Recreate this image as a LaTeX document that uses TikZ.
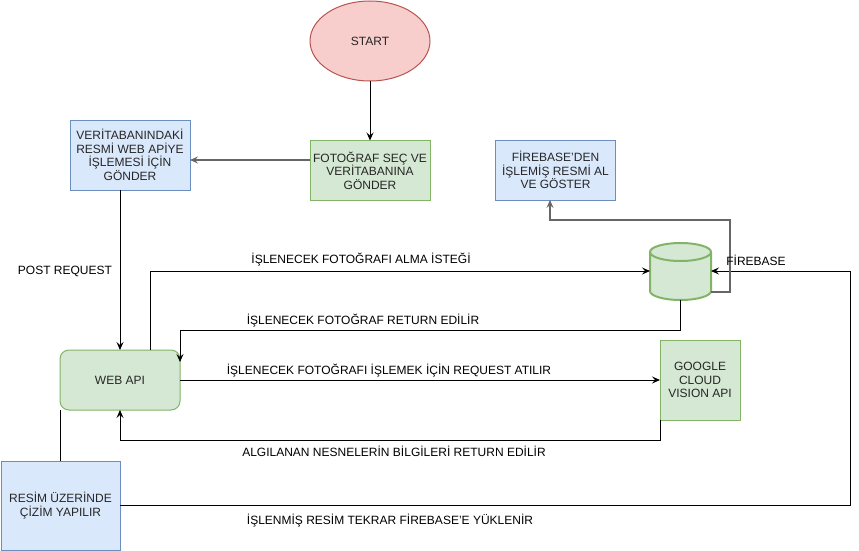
\documentclass[tikz,border=0pt]{standalone}
\usepackage{fontspec}
\setmainfont{Liberation Sans}
\usetikzlibrary{arrows.meta,calc,shapes.geometric}
\definecolor{pinkfill}{HTML}{F8CECC}
\definecolor{pinkline}{HTML}{B85450}
\definecolor{greenfill}{HTML}{D5E8D4}
\definecolor{greenline}{HTML}{82B366}
\definecolor{bluefill}{HTML}{DAE8FC}
\definecolor{blueline}{HTML}{6C8EBF}
\definecolor{graylink}{HTML}{666666}
\definecolor{boxtext}{HTML}{262626}
\begin{document}
\begin{tikzpicture}[x=1pt,y=1pt,
  every node/.style={font=\fontsize{12}{13.5}\selectfont, inner sep=0pt, outer sep=0pt},
  box/.style={draw, line width=1pt, align=center, text=boxtext},
  greenbox/.style={box, fill=greenfill, draw=greenline},
  bluebox/.style={box, fill=bluefill, draw=blueline},
  lbl/.style={text=black},
  arr/.style={draw=black, line width=1pt, -{Stealth[length=8pt,width=7pt,inset=3pt]}},
  arrg/.style={draw=graylink, line width=1.5pt, -{Stealth[length=8pt,width=7pt,inset=3pt]}},
  plainline/.style={draw=black, line width=1pt}
]
\useasboundingbox (0,0) rectangle (859,-551);

% nodes
\node[ellipse, draw=pinkline, fill=pinkfill, line width=1pt, minimum width=120pt, minimum height=80pt, text=boxtext] (start) at (370,-41) {START};
\node[greenbox, minimum width=120pt, minimum height=60pt] (foto) at (370,-170.5) {FOTOĞRAF SEÇ VE\\VERİTABANINA\\GÖNDER};
\node[bluebox, minimum width=120pt, minimum height=70pt] (veri) at (130,-155) {VERİTABANINDAKİ\\RESMİ WEB APİYE\\İŞLEMESİ İÇİN\\GÖNDER};
\node[bluebox, minimum width=120pt, minimum height=60pt] (fbshow) at (555.5,-170) {FİREBASE'DEN\\İŞLEMİŞ RESMİ AL\\VE GÖSTER};
\node[greenbox, rounded corners=9pt, minimum width=120pt, minimum height=60pt] (webapi) at (120,-380) {WEB API};
\node[greenbox, minimum width=80pt, minimum height=80pt] (google) at (700,-380) {GOOGLE\\CLOUD\\VISION API};
\node[bluebox, minimum width=119pt, minimum height=89pt] (resim) at (60.5,-505.5) {RESİM ÜZERİNDE\\ÇİZİM YAPILIR};

% cylinder (FIREBASE)
\node[minimum width=61pt, minimum height=58pt] (fb) at (680.5,-271) {};
\path[draw=greenline, fill=greenfill, line width=2pt]
  (650,-252) -- (650,-291) arc[start angle=180, end angle=360, x radius=30.5pt, y radius=9pt]
  -- (711,-252) arc[start angle=0, end angle=180, x radius=30.5pt, y radius=9pt] -- cycle;
\draw[greenline, line width=2pt] (650,-252) arc[start angle=180, end angle=360, x radius=30.5pt, y radius=9pt];

% connectors
\draw[arr] (start.south) -- (foto.north);
\draw[arrg] ([yshift=10.5pt]foto.west) -- ([yshift=10.5pt]foto.west -| veri.east);
\draw[arr] (veri.south -| webapi.north) -- (webapi.north);
\draw[arr] ([xshift=30pt]webapi.north) |- (fb.west);
\draw[arr] (fb.south) -- ++(0,-30) -| ([yshift=-12pt]webapi.north east);
\draw[arr] (webapi.east) -- (google.west);
\draw[arr] (google.south west) -- ++(0,-20) -| (webapi.south);
\draw[plainline] (resim.north) -- (resim.north |- webapi.south);
\draw[arr] (resim.east) -- ++(730,0) |- (fb.east);
\draw[arrg] ([yshift=-21pt]fb.east) -- ++(19,0) -- ++(0,72) -| ([xshift=-5.5pt]fbshow.south);

% labels
\node[lbl] (l1) at (65,-271) {POST REQUEST};
\node[lbl] (l2) at (361,-260) {İŞLENECEK FOTOĞRAFI ALMA İSTEĞİ};
\node[lbl] (l3) at (756,-260) {FİREBASE};
\node[lbl] (l4) at (363,-321) {İŞLENECEK FOTOĞRAF RETURN EDİLİR};
\node[lbl] (l5) at (389,-371) {İŞLENECEK FOTOĞRAFI İŞLEMEK İÇİN REQUEST ATILIR};
\node[lbl] (l6) at (394,-451) {ALGILANAN NESNELERİN BİLGİLERİ RETURN EDİLİR};
\node[lbl] (l7) at (390,-521) {İŞLENMİŞ RESİM TEKRAR FİREBASE'E YÜKLENİR};
\end{tikzpicture}
\end{document}
